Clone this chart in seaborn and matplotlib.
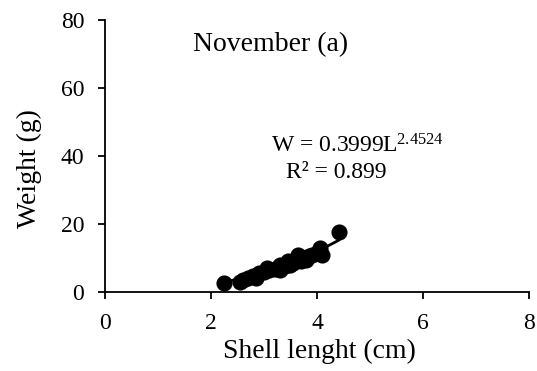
import numpy as np
import pandas as pd
import seaborn as sns
import matplotlib
matplotlib.use("Agg")
import matplotlib.pyplot as plt

length_cm = [2.25, 2.55, 2.6, 2.7, 2.8, 2.85, 2.9, 3.0, 3.05, 3.1, 3.2, 3.3, 3.3, 3.4,
             3.45, 3.5, 3.55, 3.6, 3.65, 3.7, 3.75, 3.8, 3.85, 3.9, 4.0, 4.05, 4.1, 4.42]
weight_g = [2.6, 3.0, 3.5, 4.2, 4.8, 4.0, 5.5, 6.0, 7.0, 6.5, 6.8, 6.5, 8.0, 7.5,
            9.0, 8.0, 8.5, 9.5, 11.0, 9.0, 10.0, 9.5, 10.5, 11.0, 11.5, 13.0, 11.0, 17.5]
coef_a = 0.3999
coef_b = 2.4524
r2 = 0.899
x_ticks = [0, 2, 4, 6, 8]
y_ticks = [0, 20, 40, 60, 80]

sns.set_theme(style="ticks")
plt.rcParams['font.family'] = ['Liberation Serif', 'DejaVu Serif']
plt.rcParams['mathtext.fontset'] = 'custom'
plt.rcParams['mathtext.rm'] = 'Liberation Serif'
plt.rcParams['mathtext.it'] = 'Liberation Serif:italic'
plt.rcParams['text.color'] = 'black'

df = pd.DataFrame({"x": length_cm, "y": weight_g})
fig = plt.figure(figsize=(5.37, 3.71), dpi=100)
ax = fig.add_axes([0.1955, 0.213, 0.7895, 0.733])

sns.scatterplot(data=df, x="x", y="y", ax=ax, color="black", s=135,
                edgecolor="black", linewidth=0, zorder=3)
xs = np.linspace(min(length_cm), max(length_cm), 100)
fit = pd.DataFrame({"x": xs, "y": coef_a * xs ** coef_b})
sns.lineplot(data=fit, x="x", y="y", ax=ax, color="black", linewidth=2, zorder=2)

ax.set_xlim(0, 8)
ax.set_ylim(0, 80)
ax.set_xticks(x_ticks)
ax.set_yticks(y_ticks)
ax.set_xlabel("Shell lenght (cm)", fontsize=20, color="black")
ax.set_ylabel("Weight (g)", fontsize=20, color="black")
ax.xaxis.set_label_coords(0.505, -0.172)
ax.yaxis.set_label_coords(-0.148, 0.455)
ax.tick_params(axis="both", labelsize=17, length=5, width=1.3, direction="out",
               colors="black")
ax.tick_params(axis="y", pad=10)
ax.tick_params(axis="x", pad=10)
for s in ["top", "right"]:
    ax.spines[s].set_visible(False)
for s in ["left", "bottom"]:
    ax.spines[s].set_linewidth(1.3)
    ax.spines[s].set_color("black")

ax.text(3.13, 72.8, "November (a)", fontsize=20, ha="center", va="center")
ax.text(4.76, 43.0, r"W = 0.3999L$^{\mathrm{2.4524}}$", fontsize=17, ha="center", va="center")
ax.text(4.36, 35.2, "R² = 0.899", fontsize=17, ha="center", va="center")

fig.savefig("out.png", dpi=100)
